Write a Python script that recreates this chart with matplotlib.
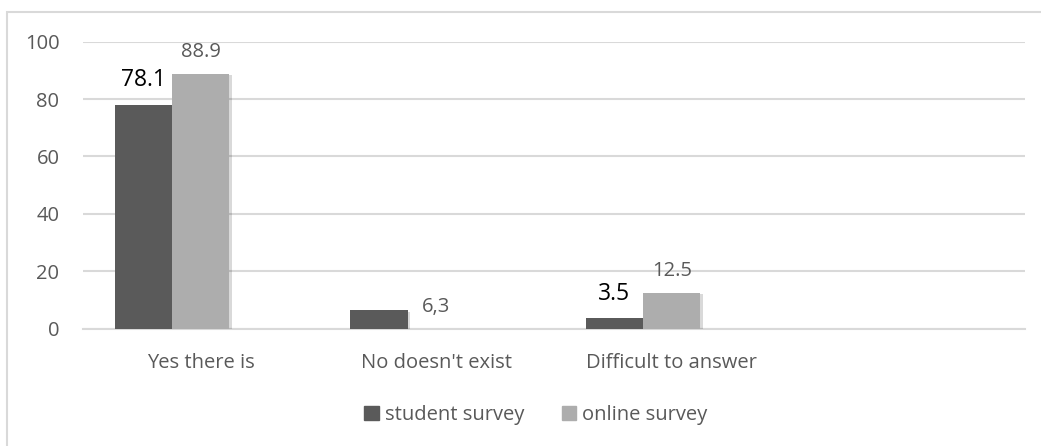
import matplotlib.pyplot as plt
from matplotlib.patches import Rectangle, Patch
import matplotlib.patheffects as pe

categories = ["Yes there is", "No doesn't exist", "Difficult to answer", ""]
student = [78.1, 6.3, 3.5, 0]
online = [88.9, 0, 12.5, 0]
student_labels = ["78.1", "", "3.5", ""]
online_labels = ["88.9", "6,3", "12.5", ""]

plt.rcParams['font.family'] = ['Open Sans', 'DejaVu Sans']

fig = plt.figure(figsize=(10.41, 4.46), dpi=100)
fig.patches.append(Rectangle((7 / 1041, -0.1), 1.1, 1 - 12 / 446 + 0.1,
                             transform=fig.transFigure, fill=False,
                             edgecolor='#d9d9d9', linewidth=1.5))
ax = fig.add_axes([83 / 1041, 1 - 328.5 / 446, 942 / 1041, (328.5 - 41.7) / 446])

w = 0.244
x = list(range(len(categories)))
shadow = [pe.SimplePatchShadow(offset=(2, -1), shadow_rgbFace='#000000', alpha=0.15), pe.Normal()]
ax.bar([i - w for i in x], student, width=w, color='#5a5a5a', zorder=3,
       path_effects=shadow)
ax.bar(x, online, width=w, color='#adadad', zorder=3, path_effects=shadow)

for i in x:
    if student_labels[i]:
        ax.annotate(student_labels[i], (i - w, student[i]), xytext=(0, 9),
                    textcoords='offset points', ha='center', va='bottom',
                    fontsize=16.5, color='black')
    if online_labels[i]:
        ax.annotate(online_labels[i], (i, online[i]), xytext=(0, 8.5),
                    textcoords='offset points', ha='center', va='bottom',
                    fontsize=14.5, color='#595959')

ax.set_xlim(-0.5, len(categories) - 0.5)
ax.set_ylim(0, 100)
ax.set_yticks(range(0, 101, 20))
ax.set_xticks(x)
ax.set_xticklabels(categories)
ax.tick_params(axis='both', length=0, labelsize=14.5, labelcolor='#595959')
ax.tick_params(axis='y', pad=17)
ax.tick_params(axis='x', pad=18)
ax.grid(axis='y', color='#d9d9d9', linewidth=1.5, zorder=0)
for s in ['top', 'right', 'left']:
    ax.spines[s].set_visible(False)
ax.spines['bottom'].set_color('#d9d9d9')
ax.spines['bottom'].set_linewidth(1.5)

handles = [Patch(color='#5a5a5a'), Patch(color='#adadad')]
fig.legend(handles, ['student survey', 'online survey'], loc='center',
           bbox_to_anchor=(536 / 1041, 1 - 415 / 446), ncol=2, frameon=False,
           fontsize=14.5, labelcolor='#595959', handlelength=0.7, handleheight=0.7,
           handletextpad=0.3, columnspacing=1.9)

fig.savefig('out.png', dpi=100)
